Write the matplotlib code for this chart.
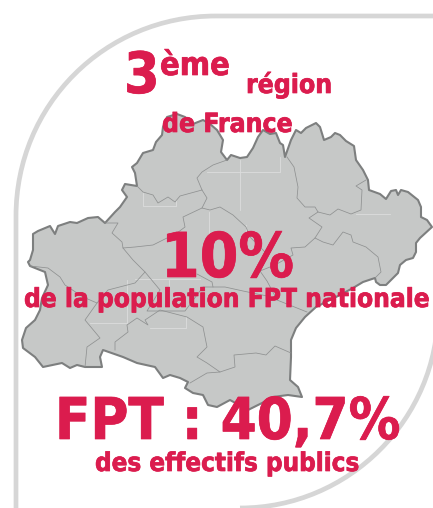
import matplotlib
matplotlib.use("Agg")
import matplotlib.pyplot as plt
import matplotlib.patheffects as pe
from matplotlib.path import Path
from matplotlib.patches import PathPatch, Polygon

W, H = 433, 508
RED = "#db1c4e"
LAND = "#c6c8c7"
COAST = "#7d7f7f"
INNER = "#8f9191"
PALE = "#dcdddd"
FRAME = "#d6d6d6"

outline = [(132,167),(137,163),(143,153),(153,150),(156,142),(162,135),(163,127),(167,117),(177,114),(185,117),
(193,124),(203,120),(210,124),(217,130),(223,140),(221,152),(227,160),(231,155),(240,158),(247,157),(253,148),
(258,137),(263,130),(270,134),(276,133),(280,143),(283,145),(285,157),(291,140),(296,130),(301,133),(306,128),
(316,123),(320,127),(324,140),(331,137),(335,133),(340,135),(346,141),(354,146),(356,160),(363,170),(368,180),
(369,190),(380,194),(386,199),(391,191),(396,190),(398,195),(401,190),(408,192),(418,200),(421,207),(421,217),
(427,220),(432,227),(420,238),(416,243),(416,252),(413,258),(406,260),(400,265),(398,273),(386,285),(380,285),
(376,282),(375,278),(363,282),(353,288),(340,295),(316,307),(305,317),(296,328),(291,340),(291,357),(290,380),
(298,387),(302,397),(288,395),(273,397),(262,403),(248,410),(230,400),(217,407),(208,405),(203,395),(193,393),
(185,388),(188,382),(180,378),(170,375),(163,378),(155,367),(137,363),(123,357),(103,350),(100,357),(102,367),
(85,367),(77,365),(70,368),(62,363),(43,367),(35,357),(23,348),(22,340),(26,328),(35,320),(40,310),(42,298),
(48,285),(45,272),(30,266),(28,262),(30,260),(33,250),(33,234),(38,231),(50,226),(55,234),(58,226),(70,222),
(77,223),(88,218),(98,217),(105,223),(115,212),(120,207),(127,197),(122,190),(125,184),(137,186),(135,173)]

border_lot = [(137,186),(143,192),(153,195),(158,203),(168,197),(175,202),(180,196),(202,190),(197,178),(202,172),(213,165),(227,160)]
border_centre = [(202,190),(207,198),(202,208),(210,210),(220,207),(233,215),(246,227),(250,237),(256,243),(266,253)]
border_tarn = [(202,208),(183,217),(185,227),(177,233),(153,245),(135,247),(123,248),(122,242),(112,233),(118,223),(105,223)]
border_gers = [(123,248),(133,260),(145,272),(135,283),(108,290),(97,303),(85,320),(100,338),(87,347),(85,367)]
border_landes = [(30,266),(48,268),(60,277),(65,285),(83,297),(97,303)]
border_ariege = [(115,350),(115,342),(128,332),(127,325),(137,318),(148,325),(145,320),(160,310),(187,317),(203,327),(207,347),(197,357),(207,363),(220,372),(207,373),(190,383)]
border_mid = [(145,272),(160,290),(147,311),(168,311),(185,311),(203,287),(225,287),(243,291),(267,296),(287,304),(307,312)]
border_mid2 = [(197,274),(212,282),(213,287)]
border_aude = [(220,372),(235,367),(234,355),(256,353),(266,355),(275,346),(291,353)]
border_lozere = [(287,157),(294,167),(298,187),(297,198),(305,207),(315,207),(318,212),(330,215),(338,209),(351,214),(361,210),(362,190),(356,186),(366,180)]
border_gard = [(318,212),(309,218),(322,227),(315,238),(305,247),(291,248),(293,255),(275,265),(260,271),(267,281),(275,296)]
border_rhone = [(315,238),(323,242),(333,245),(343,232),(351,235),(353,242),(366,247),(378,257),(381,272),(375,278)]
inner_borders = [border_lot, border_centre, border_tarn, border_gers, border_landes, border_ariege,
                 border_mid, border_mid2, border_aude, border_lozere, border_gard, border_rhone]

pale_a = [(143,193),(143,206),(176,206),(176,200)]
pale_b = [(209,212),(209,233)]
pale_c = [(207,172),(280,172),(280,157)]
pale_d = [(240,160),(240,210)]
pale_e = [(356,214),(390,214)]
pale_f = [(246,225),(246,233)]
pale_g = [(135,279),(200,279)]
pale_h = [(127,280),(127,323),(90,323)]
pale_i = [(169,280),(169,293)]
pale_j = [(150,328),(186,328),(186,317)]
pale_lines = [pale_a, pale_b, pale_c, pale_d, pale_e, pale_f, pale_g, pale_h, pale_i, pale_j]

labels = [
    ("3", 124, 93, 41),
    ("ème", 160, 75, 23.3),
    ("région", 246, 93, 19),
    ("de France", 162, 132, 19),
    ("10%", 161, 277, 44.5),
    ("de la population FPT nationale", 24, 307, 18.8),
    ("FPT : 40,7%", 55, 439, 41.5),
    ("des effectifs publics", 95, 471, 18.6),
]

fig = plt.figure(figsize=(W / 100, H / 100), dpi=100, facecolor="white")
ax = fig.add_axes([0, 0, 1, 1])
ax.set_xlim(0, W)
ax.set_ylim(H, 0)
ax.axis("off")

frame_top = Path([(16,520),(16,216),(16,105),(105,16),(216,16),(440,16)],
                 [Path.MOVETO,Path.LINETO,Path.CURVE4,Path.CURVE4,Path.CURVE4,Path.LINETO])
frame_bottom = Path([(438,310),(438,419),(349,508),(240,508)],
                    [Path.MOVETO,Path.CURVE4,Path.CURVE4,Path.CURVE4])
for p in (frame_top, frame_bottom):
    ax.add_patch(PathPatch(p, fill=False, ec=FRAME, lw=3.4, zorder=1))

ax.add_patch(Polygon(outline, closed=True, fc=LAND, ec=COAST, lw=1.5, joinstyle="round", zorder=2))
for seg in pale_lines:
    xs, ys = zip(*seg)
    ax.plot(xs, ys, color=PALE, lw=0.6, zorder=3)
for seg in inner_borders:
    xs, ys = zip(*seg)
    ax.plot(xs, ys, color=INNER, lw=0.55, zorder=4)

for s, x, y, size in labels:
    t = ax.text(x, y, s, color=RED, fontsize=size, fontweight="bold", family="DejaVu Sans",
                stretch="condensed", ha="left", va="baseline", zorder=5)
    t.set_path_effects([pe.withStroke(linewidth=0.5, foreground=RED)])

fig.savefig("out.png", dpi=100, facecolor="white")
